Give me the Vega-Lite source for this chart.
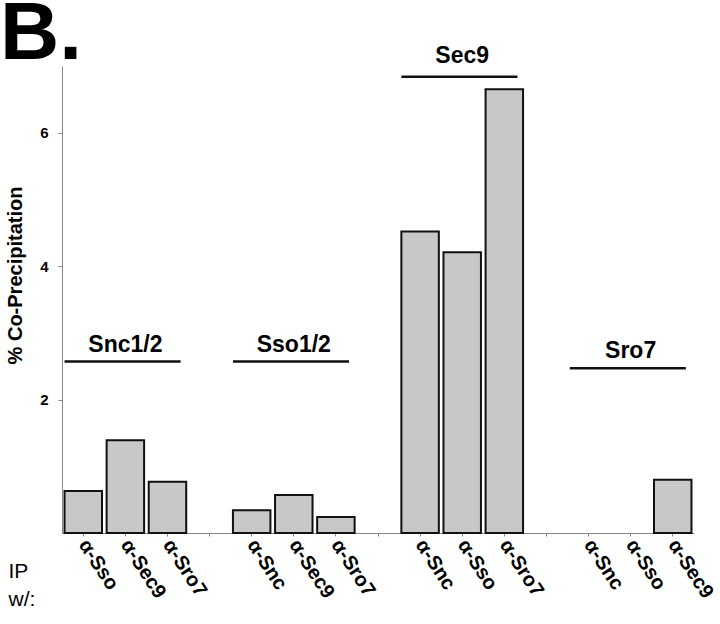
{
  "$schema": "https://vega.github.io/schema/vega-lite/v6.json",
  "width": 632,
  "height": 467,
  "autosize": {"type": "none"},
  "padding": {"left": 62, "top": 66, "right": 26, "bottom": 91},
  "background": "white",
  "config": {"view": {"stroke": null}, "font": "Liberation Sans"},
  "title": {"text": "B.", "fontSize": 82, "fontWeight": "bold", "anchor": "start", "frame": "group", "baseline": "top", "offset": 0, "dy": 31, "dx": -62, "color": "#000"},
  "datasets": {
    "bars": [
      {"complex": "Snc1/2", "ip": "α-Sso", "bar": "Snc1/2: α-Sso", "pct": 0.63},
      {"complex": "Snc1/2", "ip": "α-Sec9", "bar": "Snc1/2: α-Sec9", "pct": 1.39},
      {"complex": "Snc1/2", "ip": "α-Sro7", "bar": "Snc1/2: α-Sro7", "pct": 0.77},
      {"complex": "Sso1/2", "ip": "α-Snc", "bar": "Sso1/2: α-Snc", "pct": 0.34},
      {"complex": "Sso1/2", "ip": "α-Sec9", "bar": "Sso1/2: α-Sec9", "pct": 0.57},
      {"complex": "Sso1/2", "ip": "α-Sro7", "bar": "Sso1/2: α-Sro7", "pct": 0.24},
      {"complex": "Sec9", "ip": "α-Snc", "bar": "Sec9: α-Snc", "pct": 4.52},
      {"complex": "Sec9", "ip": "α-Sso", "bar": "Sec9: α-Sso", "pct": 4.21},
      {"complex": "Sec9", "ip": "α-Sro7", "bar": "Sec9: α-Sro7", "pct": 6.65},
      {"complex": "Sro7", "ip": "α-Snc", "bar": "Sro7: α-Snc", "pct": 0},
      {"complex": "Sro7", "ip": "α-Sso", "bar": "Sro7: α-Sso", "pct": 0},
      {"complex": "Sro7", "ip": "α-Sec9", "bar": "Sro7: α-Sec9", "pct": 0.8}
    ],
    "groups": [
      {"complex": "Snc1/2", "first": "Snc1/2: α-Sso", "mid": "Snc1/2: α-Sec9", "last": "Snc1/2: α-Sro7", "level": 2.57, "labelLevel": 2.72},
      {"complex": "Sso1/2", "first": "Sso1/2: α-Snc", "mid": "Sso1/2: α-Sec9", "last": "Sso1/2: α-Sro7", "level": 2.57, "labelLevel": 2.72},
      {"complex": "Sec9", "first": "Sec9: α-Snc", "mid": "Sec9: α-Sso", "last": "Sec9: α-Sro7", "level": 6.84, "labelLevel": 7.05},
      {"complex": "Sro7", "first": "Sro7: α-Snc", "mid": "Sro7: α-Sso", "last": "Sro7: α-Sec9", "level": 2.47, "labelLevel": 2.63}
    ]
  },
  "layer": [
    {
      "data": {"name": "bars"},
      "mark": {"type": "bar", "fill": "#c8c8c8", "stroke": "#111"},
      "encoding": {
        "x": {
          "field": "bar",
          "type": "nominal",
          "title": ["IP", "w/:"],
          "scale": {
            "domain": ["Snc1/2: α-Sso", "Snc1/2: α-Sec9", "Snc1/2: α-Sro7", "gap1",
                       "Sso1/2: α-Snc", "Sso1/2: α-Sec9", "Sso1/2: α-Sro7", "gap2",
                       "Sec9: α-Snc", "Sec9: α-Sso", "Sec9: α-Sro7", "gap3",
                       "Sro7: α-Snc", "Sro7: α-Sso", "Sro7: α-Sec9"],
            "paddingInner": 0.11,
            "paddingOuter": 0.06
          },
          "axis": {
            "orient": "bottom",
            "labelExpr": "indexof(datum.value, ':') > 0 ? split(datum.value, ': ')[1] : ''",
            "labelAngle": 57,
            "labelAlign": "left",
            "labelBaseline": "middle",
            "labelFontSize": 20,
            "labelFontWeight": "bold",
            "labelColor": "#000",
            "labelPadding": 5,
            "labelOverlap": false,
            "tickSize": 3,
            "tickColor": "#888",
            "domainColor": "#888",
            "titleX": -54,
            "titleY": 44,
            "titleAlign": "left",
            "titleAnchor": null,
            "titleBaseline": "alphabetic",
            "titleFontSize": 21,
            "titleFontWeight": "normal",
            "titleLineHeight": 28,
            "titleColor": "#000"
          }
        },
        "y": {
          "field": "pct",
          "type": "quantitative",
          "title": "% Co-Precipitation",
          "scale": {"domain": [0, 7], "nice": false},
          "axis": {
            "values": [2, 4, 6],
            "format": "d",
            "grid": false,
            "tickSize": 4,
            "tickColor": "#888",
            "domainColor": "#888",
            "labelFontSize": 15,
            "labelFontWeight": "bold",
            "labelColor": "#000",
            "labelPadding": 10,
            "titleFontSize": 20,
            "titleFontWeight": "bold",
            "titleColor": "#000",
            "titleX": -47,
            "titleY": 209,
            "titleAngle": -90,
            "titleAlign": "center",
            "titleBaseline": "middle"
          }
        },
        "strokeWidth": {"condition": {"test": "datum.pct > 0", "value": 2}, "value": 0}
      }
    },
    {
      "data": {"name": "groups"},
      "mark": {"type": "rule", "strokeWidth": 2.5, "color": "#111"},
      "encoding": {
        "x": {"field": "first", "type": "nominal", "bandPosition": 0, "title": ["IP", "w/:"]},
        "x2": {"field": "last", "bandPosition": 0.85},
        "y": {"field": "level", "type": "quantitative", "title": "% Co-Precipitation"}
      }
    },
    {
      "data": {"name": "groups"},
      "mark": {"type": "text", "fontSize": 23, "fontWeight": "bold", "baseline": "alphabetic", "align": "center", "color": "#000"},
      "encoding": {
        "x": {"field": "mid", "type": "nominal", "title": ["IP", "w/:"]},
        "y": {"field": "labelLevel", "type": "quantitative", "title": "% Co-Precipitation"},
        "text": {"field": "complex"}
      }
    }
  ]
}
